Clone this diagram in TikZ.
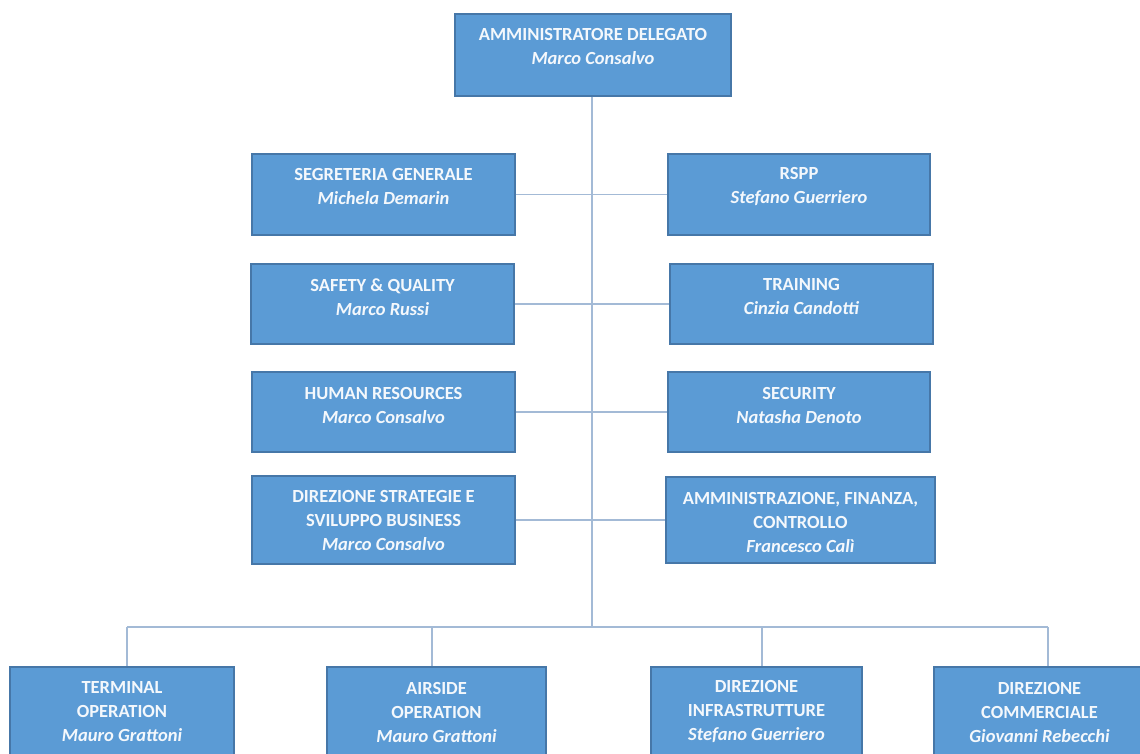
\documentclass[tikz,border=0pt]{standalone}
\usepackage{fontspec}
\setmainfont{Carlito}
\definecolor{boxfill}{HTML}{5B9BD5}
\definecolor{boxline}{HTML}{4677A8}
\definecolor{connline}{HTML}{A3BAD6}
\definecolor{boxtext}{HTML}{F4F8FC}
\tikzset{
  orgbox/.style={draw=boxline, line width=1.1pt, fill=boxfill, rectangle, inner sep=0pt},
  orgtext/.style={text=boxtext, align=center, inner sep=0pt, font=\fontsize{18.5}{24}\selectfont\bfseries},
  conn/.style={draw=connline, line width=1.6pt}
}
\begin{document}
\begin{tikzpicture}[x=1pt,y=-1pt]
\useasboundingbox (0,0) rectangle (1140,754);
\fill[white] (0,0) rectangle (1140,754);
\clip (0,0) rectangle (1140,754);
% boxes
\node[orgbox, minimum width=276pt, minimum height=82pt] (ad) at (593,55) {};
\node[orgbox, minimum width=263pt, minimum height=81pt] (r1l) at (383.5,194.5) {};
\node[orgbox, minimum width=262pt, minimum height=81pt] (r1r) at (799,194.5) {};
\node[orgbox, minimum width=263pt, minimum height=80pt] (r2l) at (382.5,304) {};
\node[orgbox, minimum width=263pt, minimum height=80pt] (r2r) at (801.5,304) {};
\node[orgbox, minimum width=263pt, minimum height=80pt] (r3l) at (383.5,412) {};
\node[orgbox, minimum width=262pt, minimum height=80pt] (r3r) at (799,412) {};
\node[orgbox, minimum width=263pt, minimum height=88pt] (r4l) at (383.5,520) {};
\node[orgbox, minimum width=269pt, minimum height=86pt] (r4r) at (800.5,520) {};
\node[orgbox, minimum width=224pt, minimum height=89pt] (b1) at (122,711.5) {};
\node[orgbox, minimum width=219pt, minimum height=89pt] (b2) at (436.5,711.5) {};
\node[orgbox, minimum width=211pt, minimum height=89pt] (b3) at (756.5,711.5) {};
\node[orgbox, minimum width=211pt, minimum height=89pt] (b4) at (1039.5,711.5) {};
% connectors
\coordinate (bus) at (592,627);
\coordinate (d1) at (127,627);
\coordinate (d2) at (432,627);
\coordinate (d3) at (762,627);
\coordinate (d4) at (1048,627);
\draw[conn] (ad.south -| bus) -- (bus);
\draw[conn] (r1l.east) -- (r1r.west);
\draw[conn] (r2l.east) -- (r2r.west);
\draw[conn] (r3l.east) -- (r3r.west);
\draw[conn] (r4l.east) -- (r4r.west);
\draw[conn] (d1) -- (d4);
\draw[conn] (d1) -- (d1 |- b1.north);
\draw[conn] (d2) -- (d2 |- b2.north);
\draw[conn] (d3) -- (d3 |- b3.north);
\draw[conn] (d4) -- (d4 |- b4.north);
% texts
\node[orgtext] (tad) at (593,47) {AMMINISTRATORE DELEGATO\\\textit{Marco Consalvo}};
\node[orgtext] (tr1l) at (383.5,187) {SEGRETERIA GENERALE\\\textit{Michela Demarin}};
\node[orgtext] (tr1r) at (799,187) {RSPP\\\textit{Stefano Guerriero}};
\node[orgtext] (tr2l) at (382.5,297) {SAFETY \& QUALITY\\\textit{Marco Russi}};
\node[orgtext] (tr2r) at (801.5,297) {TRAINING\\\textit{Cinzia Candotti}};
\node[orgtext] (tr3l) at (383.5,405) {HUMAN RESOURCES\\\textit{Marco Consalvo}};
\node[orgtext] (tr3r) at (799,405) {SECURITY\\\textit{Natasha Denoto}};
\node[orgtext] (tr4l) at (383.5,520) {DIREZIONE STRATEGIE E\\SVILUPPO BUSINESS\\\textit{Marco Consalvo}};
\node[orgtext] (tr4r) at (800.5,522) {AMMINISTRAZIONE, FINANZA,\\CONTROLLO\\\textit{Francesco Calì}};
\node[orgtext] (tb1) at (122,712) {TERMINAL\\OPERATION\\\textit{Mauro Grattoni}};
\node[orgtext] (tb2) at (436.5,712) {AIRSIDE\\OPERATION\\\textit{Mauro Grattoni}};
\node[orgtext] (tb3) at (756.5,712) {DIREZIONE\\INFRASTRUTTURE\\\textit{Stefano Guerriero}};
\node[orgtext] (tb4) at (1039.5,712) {DIREZIONE\\COMMERCIALE\\\textit{Giovanni Rebecchi}};
\end{tikzpicture}
\end{document}
